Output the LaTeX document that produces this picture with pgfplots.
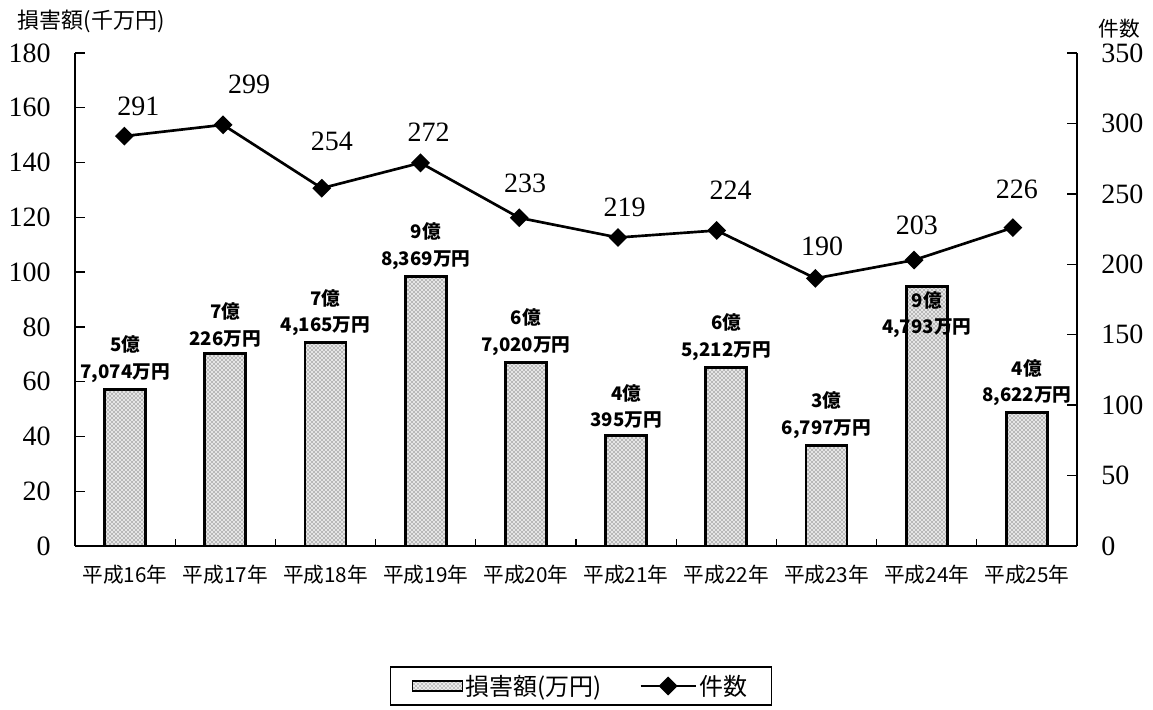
\documentclass[border=0pt]{standalone}
\usepackage{fontspec}
\setmainfont{Liberation Serif}
\newfontfamily\jp{Noto Sans CJK JP}
\usepackage{pgfplots}
\pgfplotsset{compat=1.18}
\usepackage{pgfplotstable}
\usetikzlibrary{patterns}

% 損害額 (千万円) and label text for each year
\pgfplotstableread{
x  dmg     ly    lab
0  57.074  4     {5億\\7,074万円}
1  70.226  4     {7億\\226万円}
2  74.165  4     {7億\\4,165万円}
3  98.369  4     {9億\\8,369万円}
4  67.020  4     {6億\\7,020万円}
5  40.395  4     {4億\\395万円}
6  65.212  4     {6億\\5,212万円}
7  36.797  4     {3億\\6,797万円}
8  94.793  -40   {9億\\4,793万円}
9  48.622  4     {4億\\8,622万円}
}\damage

% 件数 with label offsets (pt)
\pgfplotstableread{
x  n    dx    dy
0  291  10.5  22.5
1  299  19.5  30
2  254  7.5   35
3  272  6     23
4  233  4.5   25.5
5  219  5     22.5
6  224  10.5  30
7  190  5     24
8  203  2     26
9  226  3     29
}\counts

\pgfplotsset{
  base/.style={
    scale only axis,
    width=751.5pt, height=369.75pt,
    at={(56.25pt,123pt)}, anchor=south west,
    /pgf/number format/assume math mode=true,
    tick align=inside,
    axis line style={line width=1.1pt},
    tick style={line width=1pt, black},
    major tick length=7.5pt,
    tick label style={font=\fontsize{21}{24}\selectfont, inner sep=0pt},
    yticklabel shift=18pt,
  },
  linelegend/.style={
    legend image code/.code={
      \draw[##1, mark repeat=2, mark phase=2]
        plot coordinates {(0pt,0pt) (20.6pt,0pt) (41.25pt,0pt)};}},
  barlegend/.style={
    legend image code/.code={
      \draw[black, line width=1pt, fill=black!8,
        postaction={pattern=crosshatch dots, pattern color=black!80}]
        (0pt,-3.75pt) rectangle (37.5pt,3.75pt);}},
}

\begin{document}
\begin{tikzpicture}
\path[use as bounding box] (0,0) rectangle (864.75pt,532.5pt);

% bars: 損害額
\begin{axis}[base,
  axis x line*=bottom, axis y line*=left,
  xmin=-0.5, xmax=9.5,
  ymin=0, ymax=180, ytick={0,20,...,180},
  xtick={0,...,9},
  xticklabels={平成16年,平成17年,平成18年,平成19年,平成20年,平成21年,平成22年,平成23年,平成24年,平成25年},
  xticklabel style={font=\jp\fontsize{15.5}{18}\selectfont},
  xticklabel shift=14pt,
  major x tick style={draw=none},
  minor xtick={0.5,1.5,...,8.5},
  minor tick length=5pt,
  ylabel={損害額(千万円)},
  every axis y label/.style={at={(rel axis cs:-0.062,1.065)}, anchor=west,
    font=\jp\fontsize{16.5}{18}\selectfont},
]
\addplot[ybar, bar width=30.75pt, draw=black, line width=2.2pt,
  fill=black!10,
  postaction={pattern=crosshatch dots, pattern color=black!85},
  point meta=explicit symbolic,
  nodes near coords,
  visualization depends on={\thisrow{ly} \as \ly},
  nodes near coords style={align=center, inner sep=0pt, anchor=south,
    yshift=\ly pt, font=\jp\bfseries\fontsize{14}{20}\selectfont},
] table[x=x, y=dmg, meta=lab] {\damage};
\end{axis}

% line: 件数
\begin{axis}[base,
  axis y line*=right, axis x line=none,
  xmin=-0.5, xmax=9.65,
  ymin=0, ymax=350, ytick={0,50,...,350},
  ylabel={件数},
  every axis y label/.style={at={(rel axis cs:1.042,1.049)}, anchor=center,
    font=\jp\fontsize{15.5}{18}\selectfont},
  legend columns=2,
  legend style={at={(rel axis cs:0.505,-0.284)}, anchor=center,
    draw=black, line width=1pt, font=\jp\fontsize{18}{21}\selectfont,
    inner xsep=16pt, inner ysep=4pt,
    /tikz/every even column/.append style={column sep=26pt}},
]
\addlegendimage{barlegend}
\addlegendentry{損害額(万円)}
\addplot[black, line width=2pt, mark=square*, mark size=4pt,
  mark options={rotate=45, solid},
  nodes near coords,
  visualization depends on={\thisrow{dx} \as \dx},
  visualization depends on={\thisrow{dy} \as \dy},
  nodes near coords style={anchor=center, inner sep=0pt,
    xshift=\dx pt, yshift=\dy pt, font=\fontsize{21}{24}\selectfont},
  linelegend,
] table[x=x, y=n] {\counts};
\addlegendentry{件数}
\end{axis}
\end{tikzpicture}
\end{document}
